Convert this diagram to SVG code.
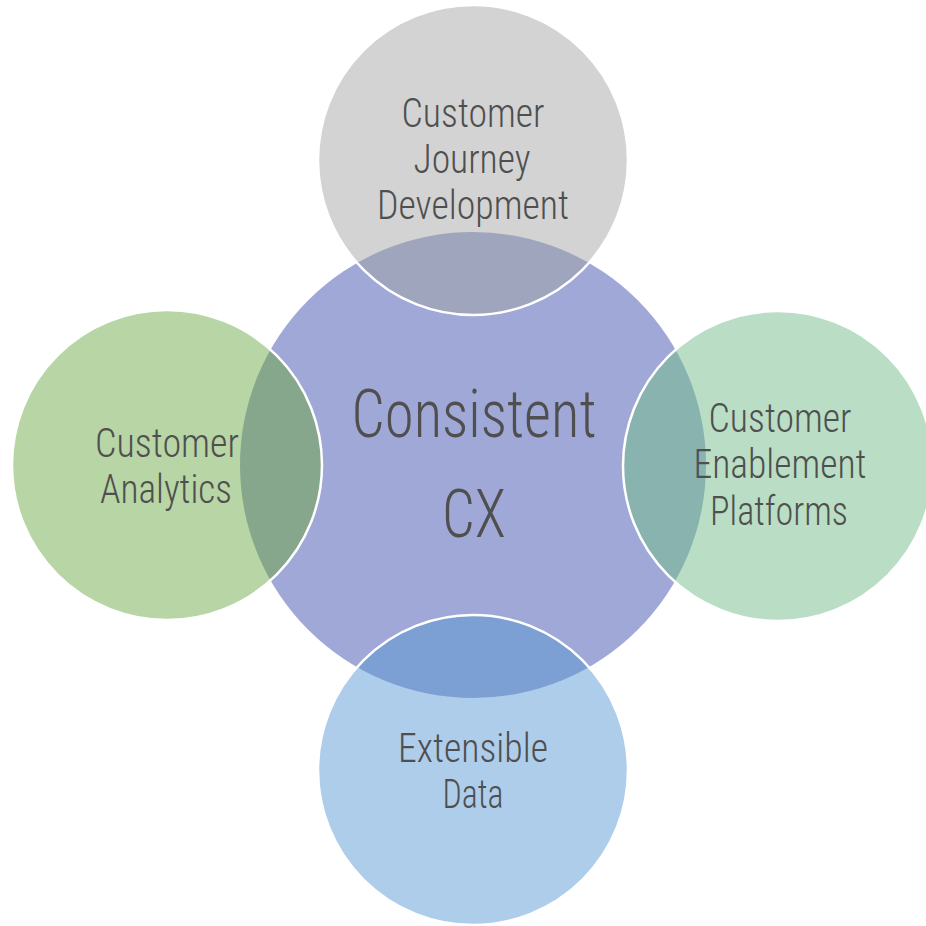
<svg xmlns="http://www.w3.org/2000/svg" width="926" height="926" viewBox="0 0 926 926">
  <style>
    .lbl { font-family: "Liberation Sans Narrow", "Roboto Condensed", Roboto, "Liberation Sans", sans-serif; font-stretch: condensed; font-weight: 300; fill: #4f4f4f; text-anchor: middle; }
    .sm { font-size: 40px; }
    .lg { font-size: 67px; }
    .rim { stroke: #ffffff; stroke-width: 2.5; fill: none; }
  </style>
  <defs>
    <clipPath id="hub-clip">
      <circle cx="473" cy="465" r="233"/>
    </clipPath>
  </defs>
  <rect width="926" height="926" fill="#ffffff"/>

  <g id="hub">
    <circle cx="473" cy="465" r="233" fill="#9fa8d7"/>
  </g>

  <g id="journey">
    <circle cx="473" cy="160" r="155" fill="#d3d3d3"/>
    <circle cx="473" cy="160" r="155" fill="#a0a5be" clip-path="url(#hub-clip)"/>
    <circle class="rim" cx="473" cy="160" r="155"/>
    <text class="lbl sm" x="473" y="127" textLength="143" lengthAdjust="spacingAndGlyphs">Customer</text>
    <text class="lbl sm" x="472" y="173" textLength="117" lengthAdjust="spacingAndGlyphs">Journey</text>
    <text class="lbl sm" x="473" y="219" textLength="192" lengthAdjust="spacingAndGlyphs">Development</text>
  </g>

  <g id="analytics">
    <circle cx="167" cy="465" r="155" fill="#b7d5a5"/>
    <circle cx="167" cy="465" r="155" fill="#86a78c" clip-path="url(#hub-clip)"/>
    <circle class="rim" cx="167" cy="465" r="155"/>
    <text class="lbl sm" x="167" y="457" textLength="144" lengthAdjust="spacingAndGlyphs">Customer</text>
    <text class="lbl sm" x="166" y="503" textLength="132" lengthAdjust="spacingAndGlyphs">Analytics</text>
  </g>

  <g id="platforms">
    <circle cx="778" cy="466" r="155" fill="#b9dec5"/>
    <circle cx="778" cy="466" r="155" fill="#89b3af" clip-path="url(#hub-clip)"/>
    <circle class="rim" cx="778" cy="466" r="155"/>
    <text class="lbl sm" x="780" y="432" textLength="143" lengthAdjust="spacingAndGlyphs">Customer</text>
    <text class="lbl sm" x="780" y="478" textLength="173" lengthAdjust="spacingAndGlyphs">Enablement</text>
    <text class="lbl sm" x="779" y="525" textLength="138" lengthAdjust="spacingAndGlyphs">Platforms</text>
  </g>

  <g id="data">
    <circle cx="473" cy="770" r="155" fill="#aecdea"/>
    <circle cx="473" cy="770" r="155" fill="#7c9fd4" clip-path="url(#hub-clip)"/>
    <circle class="rim" cx="473" cy="770" r="155"/>
    <text class="lbl sm" x="473" y="762" textLength="150" lengthAdjust="spacingAndGlyphs">Extensible</text>
    <text class="lbl sm" x="473" y="808" textLength="61" lengthAdjust="spacingAndGlyphs">Data</text>
  </g>

  <g id="hub-label">
    <text class="lbl lg" x="474" y="437" textLength="245" lengthAdjust="spacingAndGlyphs">Consistent</text>
    <text class="lbl lg" x="474" y="537" textLength="64" lengthAdjust="spacingAndGlyphs">CX</text>
  </g>

  <g id="connectors"/>
</svg>
